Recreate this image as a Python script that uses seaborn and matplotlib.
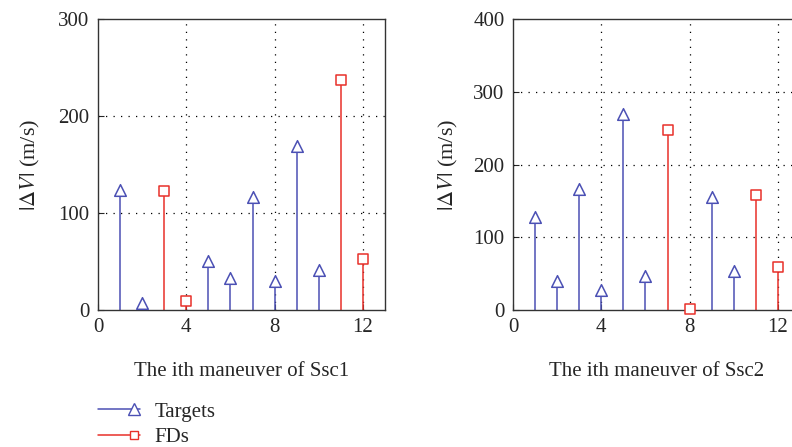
import numpy as np
import pandas as pd
import matplotlib
matplotlib.use("Agg")
import matplotlib.pyplot as plt
import seaborn as sns
from matplotlib.lines import Line2D
from matplotlib.legend_handler import HandlerLine2D

# maneuver index -> |dV| (m/s)
ssc1_target_idx = [1, 2, 5, 6, 7, 8, 9, 10]
ssc1_target_dv = [124, 7, 51, 33, 117, 30, 169, 41]
ssc1_fd_idx = [3, 4, 11, 12]
ssc1_fd_dv = [123, 9, 237, 53]

ssc2_target_idx = [1, 2, 3, 4, 5, 6, 9, 10]
ssc2_target_dv = [128, 40, 166, 28, 270, 47, 155, 54]
ssc2_fd_idx = [7, 8, 11, 12]
ssc2_fd_dv = [248, 2, 158, 59]

blue = "#4b50b4"
red = "#e8302a"

sns.set_style("ticks")
plt.rcParams["font.family"] = ["Liberation Serif", "DejaVu Serif"]
plt.rcParams["mathtext.fontset"] = "stix"

fig = plt.figure(figsize=(7.92, 4.47), dpi=100)
W, H = 792, 447
ax1 = fig.add_axes([98 / W, 1 - 310 / H, 287 / W, 291 / H])
ax2 = fig.add_axes([513 / W, 1 - 310 / H, 287 / W, 291 / H])

FS = 15


def draw(ax, t_idx, t_dv, f_idx, f_dv, ymax, xlabel, ylpad):
    ax.vlines(t_idx, 0, t_dv, color=blue, lw=1.1, zorder=2)
    ax.vlines(f_idx, 0, f_dv, color=red, lw=1.1, zorder=2)
    dt = pd.DataFrame({"i": t_idx, "dv": t_dv})
    df = pd.DataFrame({"i": f_idx, "dv": f_dv})
    sns.scatterplot(data=dt, x="i", y="dv", ax=ax, marker="^", s=70,
                    facecolor="white", edgecolor=blue, linewidth=1.1, zorder=3, clip_on=False)
    sns.scatterplot(data=df, x="i", y="dv", ax=ax, marker="s", s=50,
                    facecolor="white", edgecolor=red, linewidth=1.1, zorder=3, clip_on=False)
    ax.set_xlim(0, 13)
    ax.set_ylim(0, ymax)
    ax.set_xticks([0, 4, 8, 12])
    ax.set_yticks(np.arange(0, ymax + 1, 100))
    for x in [4, 8, 12]:
        ax.axvline(x, color="black", ls=(0, (1, 5)), lw=0.9, zorder=1)
    for y in np.arange(100, ymax, 100):
        ax.axhline(y, color="black", ls=(0, (1, 5)), lw=0.9, zorder=1)
    ax.tick_params(direction="in", length=4, width=0.8, labelsize=FS, pad=6)
    for s in ax.spines.values():
        s.set_linewidth(1.0)
        s.set_color("#333333")
    ax.set_xlabel(xlabel, fontsize=FS, labelpad=18)
    ax.set_ylabel(r"$|\mathit{\Delta V}|$ (m/s)", fontsize=FS + 1, labelpad=ylpad)


draw(ax1, ssc1_target_idx, ssc1_target_dv, ssc1_fd_idx, ssc1_fd_dv, 300,
     "The ith maneuver of Ssc1", 12)
draw(ax2, ssc2_target_idx, ssc2_target_dv, ssc2_fd_idx, ssc2_fd_dv, 400,
     "The ith maneuver of Ssc2", 10)


class EndMarker(HandlerLine2D):
    # line across the handle, marker near its right end
    def create_artists(self, legend, orig_handle, xdescent, ydescent,
                       width, height, fontsize, trans):
        y = (height - ydescent) / 2
        line = Line2D([-xdescent, -xdescent + width], [y, y])
        self.update_prop(line, orig_handle, legend)
        line.set_marker("None")
        line.set_transform(trans)
        mk = Line2D([-xdescent + width * 0.87], [y])
        self.update_prop(mk, orig_handle, legend)
        mk.set_linestyle("None")
        mk.set_transform(trans)
        return [line, mk]


handles = [
    Line2D([0], [0], color=blue, lw=1.1, marker="^",
           markerfacecolor="white", markeredgecolor=blue, markersize=8),
    Line2D([0], [0], color=red, lw=1.1, marker="s",
           markerfacecolor="white", markeredgecolor=red, markersize=6),
]
fig.legend(handles, ["Targets", "FDs"], loc="upper left", numpoints=1,
           handler_map={Line2D: EndMarker()},
           bbox_to_anchor=(98 / W, 1 - 402 / H), frameon=False, fontsize=FS,
           handlelength=2.0, handletextpad=0.7, labelspacing=0.3,
           borderpad=0, borderaxespad=0)

fig.savefig("out.png", dpi=100)
